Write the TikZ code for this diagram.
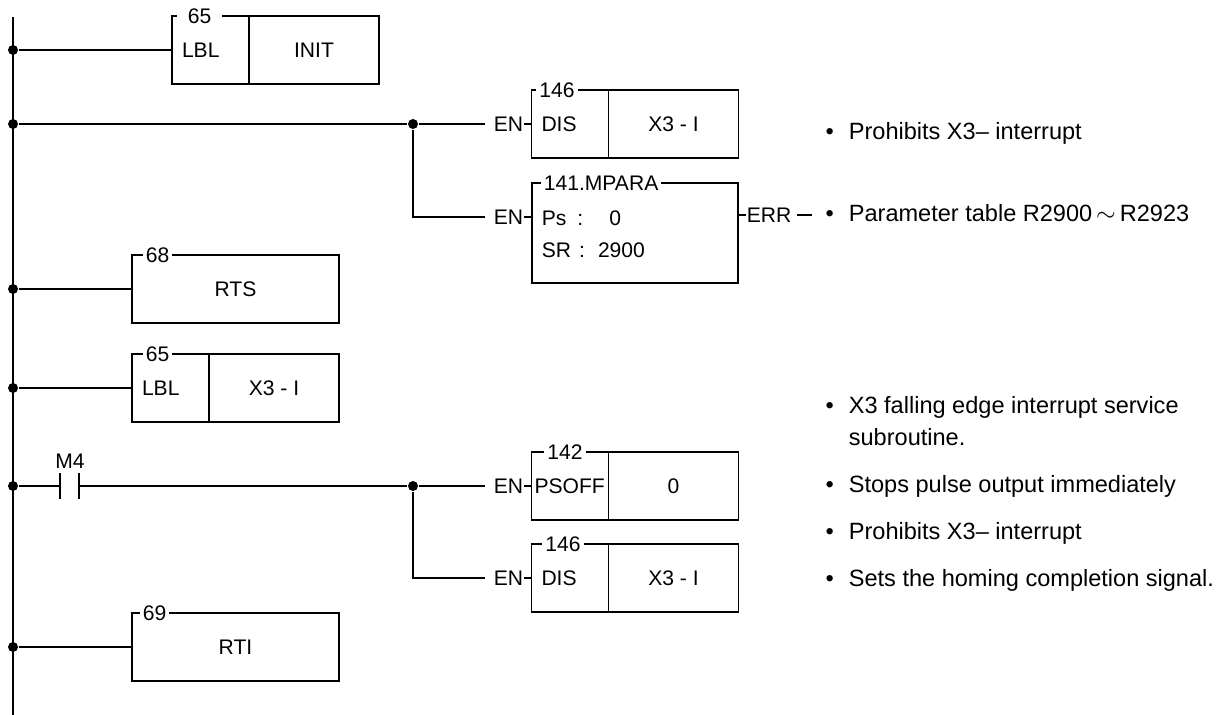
\documentclass[tikz,border=0pt]{standalone}
\usepackage{fontspec}
\setmainfont{Liberation Sans}
\usetikzlibrary{positioning}
\newcommand{\boxfont}{\fontsize{12}{18.2}\selectfont}
\newcommand{\notefont}{\fontsize{13.4}{18.2}\selectfont}
\tikzset{
  cell/.style={draw, rectangle, inner sep=0pt, outer sep=0pt, minimum height=1.36cm, font=\boxfont},
  opcell/.style={cell, minimum width=1.54cm, text width=1.14cm, inner xsep=0.2cm, align=left},
  argcell/.style={cell, minimum width=2.6cm},
  longcell/.style={cell, minimum width=4.14cm},
  tag/.style={fill=white, inner xsep=0.06cm, inner ysep=0pt, anchor=west, font=\boxfont},
  sig/.style={inner sep=0pt, font=\boxfont},
  junc/.style={circle, fill, inner sep=0pt, minimum size=0.2cm},
  note/.style={anchor=west, inner sep=0pt, align=left, font=\notefont},
}
\begin{document}
\begin{tikzpicture}[x=0.02cm, y=-0.02cm, line width=1pt]
  \useasboundingbox (0,0) rectangle (1231,715);
  % power rail
  \coordinate (top) at (13,17);
  \coordinate (bot) at (13,715);
  \draw (top) -- (bot);
  \path
    (13,50) node[junc] (r1){}
    (13,124) node[junc] (r2){}
    (13,289) node[junc] (r3){}
    (13,388) node[junc] (r4){}
    (13,486) node[junc] (r5){}
    (13,647) node[junc] (r6){};
  % LBL INIT
  \node[opcell] (lbl1) at (210.5,50) {LBL};
  \node[argcell, right=0pt of lbl1] (init) {INIT};
  \node[tag, inner xsep=0.22cm] (t1) at ([xshift=0.08cm]lbl1.north west) {65};
  % DIS and MPARA
  \node[junc] (j1) at (413,124) {};
  \node[opcell] (dis1) at (570,124) {DIS};
  \node[argcell, right=0pt of dis1] (x3a) {X3 - I};
  \node[tag] (t2) at ([xshift=0.08cm]dis1.north west) {146};
  \node[sig, anchor=east] (en1) at (524,124) {EN};
  \node[longcell, minimum width=4.12cm, minimum height=2cm] (mpara) at (635,233) {};
  \node[tag] (t3) at ([xshift=0.16cm]mpara.north west) {141.MPARA};
  \node[sig, anchor=east] (en2) at (524,217) {EN};
  \node[sig, anchor=west, align=left] (mptext) at (541,234)
    {Ps\hspace{0.22cm}:\hspace{0.52cm}0\\SR\hspace{0.16cm}:\hspace{0.26cm}2900};
  \node[sig, anchor=west] (err) at (746,215) {ERR};
  \coordinate (errout) at (812,215);
  % RTS
  \node[longcell] (rts) at (235.5,289) {RTS};
  \node[tag] (t4) at ([xshift=0.2cm]rts.north west) {68};
  % LBL X3-I
  \node[opcell] (lbl2) at (170.5,388) {LBL};
  \node[argcell, right=0pt of lbl2] (x3b) {X3 - I};
  \node[tag] (t5) at ([xshift=0.2cm]lbl2.north west) {65};
  % M4 contact
  \coordinate (c1) at (60,486);
  \coordinate (c2) at (79,486);
  \node[sig] (m4) at (70,461) {M4};
  \node[junc] (j2) at (413,486) {};
  \node[opcell, text width=1.42cm, inner xsep=0.06cm] (psoff) at (570,486) {PSOFF};
  \node[argcell, right=0pt of psoff] (zero) {0};
  \node[tag] (t6) at ([xshift=0.24cm]psoff.north west) {142};
  \node[sig, anchor=east] (en3) at (524,486) {EN};
  \node[opcell] (dis2) at (570,578) {DIS};
  \node[argcell, right=0pt of dis2] (x3c) {X3 - I};
  \node[tag] (t7) at ([xshift=0.2cm]dis2.north west) {146};
  \node[sig, anchor=east] (en4) at (524,578) {EN};
  % RTI
  \node[longcell] (rti) at (235.5,647) {RTI};
  \node[tag] (t8) at ([xshift=0.14cm]rti.north west) {69};
  \begin{scope}[-]
    \draw (r1) to (lbl1.west);
    \draw (r2) to (j1);
    \draw (j1) to ([xshift=-0.16cm]en1.west);
    \draw (en1.east) to (dis1.west);
    \draw (j1) |- ([xshift=-0.16cm]en2.west);
    \draw (en2.east) to (en2.east -| mpara.west);
    \draw (err.west -| mpara.east) to (err.west);
    \draw[line width=0.7pt] ([xshift=0.1cm]err.east) to (errout);
    \draw (r3) to (rts.west);
    \draw (r4) to (lbl2.west);
    \draw (r5) to (c1);
    \draw ([yshift=0.26cm]c1) to ([yshift=-0.26cm]c1);
    \draw ([yshift=0.26cm]c2) to ([yshift=-0.26cm]c2);
    \draw (c2) to (j2);
    \draw (j2) to ([xshift=-0.16cm]en3.west);
    \draw (en3.east) to (psoff.west);
    \draw (j2) |- ([xshift=-0.16cm]en4.west);
    \draw (en4.east) to (dis2.west);
    \draw (r6) to (rti.west);
  \end{scope}
  % notes
  \node[note] (n1) at (848,133) {\llap{\textbullet\hspace{0.3cm}}Prohibits X3– interrupt};
  \node[note] (n2) at (848,213) {\llap{\textbullet\hspace{0.3cm}}Parameter table R2900\,$\sim$\,R2923};
  \node[note] (n3) at (848,421) {\llap{\textbullet\hspace{0.3cm}}X3 falling edge interrupt service\\subroutine.};
  \node[note] (n4) at (848,486) {\llap{\textbullet\hspace{0.3cm}}Stops pulse output immediately};
  \node[note] (n5) at (848,533) {\llap{\textbullet\hspace{0.3cm}}Prohibits X3– interrupt};
  \node[note] (n6) at (848,580) {\llap{\textbullet\hspace{0.3cm}}Sets the homing completion signal.};
\end{tikzpicture}
\end{document}
